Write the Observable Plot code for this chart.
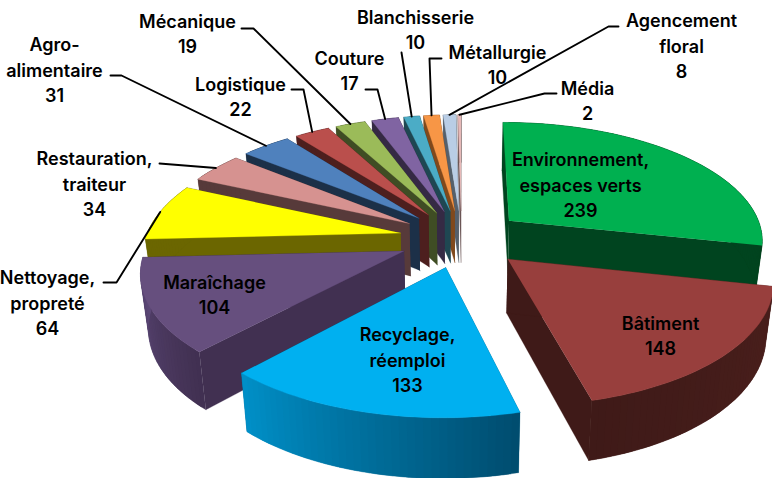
<!DOCTYPE html>
<html>
<head>
<meta charset="utf-8">
<script src="https://cdn.jsdelivr.net/npm/d3@7"></script>
<script src="https://cdn.jsdelivr.net/npm/@observablehq/plot@0.6"></script>
<style>html,body{margin:0;padding:0;background:#fff;overflow:hidden}</style>
</head>
<body>
<div id="chart"></div>
<script>
// Data: categories and values, clockwise from the top
const categories = ["Environnement,\nespaces verts","Bâtiment","Recyclage,\nréemploi","Maraîchage","Nettoyage,\npropreté","Restauration,\ntraiteur","Agro-\nalimentaire","Logistique","Mécanique","Couture","Blanchisserie","Métallurgie","Agencement\nfloral","Média"];
const values = [239,148,133,104,64,34,31,22,19,17,10,10,8,2];

// Styles
const topColors  = ["#00b050","#983f3d","#00b0f0","#664f7e","#ffff00","#d69290","#4f81bd","#ba4f4c","#9bbb59","#8064a2","#4bacc6","#f79646","#b9cde5","#e6b9b8"];
const wallColors = ["#00441f","#3f1a18","#005a7c","#413051","#6b6600","#573a3a","#1c3048","#4d1f1e","#3f4d24","#352a44","#1f4752","#80491c","#55606b","#6b5555"];
const arcStart   = ["#00441f","#4a1f1c","#004c6e","#413051","#6b6600","#573a3a","#1c3048","#4d1f1e","#3f4d24","#352a44","#1f4752","#80491c","#55606b","#6b5555"];
const arcEnd     = ["#00441f","#3f1a18","#0090c8","#5c4878","#6b6600","#573a3a","#1c3048","#4d1f1e","#3f4d24","#352a44","#1f4752","#80491c","#55606b","#6b5555"];

// Label layout (centre of each text block, and the elbow the leader leaves from)
const labelX = [580,660,407,214,47,94,54,240,187,349,415,497,681,587];
const labelY = [185,336,360,295,303,184,70,97,34,71,30,65,46,101];
const leaderFrom = [null,null,null,null,[[103,282],[116,282]],[[159,163]],[[110,75],[121,75]],[[291,89],[303,89]],[[241,28],[253,28]],[[365,89],[377,89]],[[401,52]],[[441,58],[429,58]],[[618,26],[608,26]],[[556,93],[544,93]]];

// Perspective pie model
const cx = 461, cy = 238, Rx = 255, Ry = 118, persp = 0.15, explode = 0.245, depth = 53, shrink = 0.975;
const total = d3.sum(values);
const project = (X, Y, low) => {
  const w = 1 / (1 - persp * Y), s = low ? shrink : 1;
  return [cx + Rx * X * w * s, cy + Ry * Y * w * s + (low ? depth * w : 0)];
};
const rad = d => d * Math.PI / 180;

let acc = 0;
const slices = values.map((v, i) => {
  const a0 = acc / total * 360; acc += v; const a1 = acc / total * 360;
  const mid = (a0 + a1) / 2;
  const ox = explode * Math.sin(rad(mid)), oy = -explode * Math.cos(rad(mid));
  const P = (a, r, low) => project(ox + r * Math.sin(rad(a)), oy - r * Math.cos(rad(a)), low);
  return {i, a0, a1, mid, P};
});

// Painter's order: back slices anti-clockwise from the top, then the two in front on the right
const order = [13,12,11,10,9,8,7,6,5,4,3,2,0,1];
const polys = [];
let pid = 0;
const addPoly = (pts, color) => { pid++; pts.forEach(p => polys.push({id: pid, x: p[0], y: p[1], color})); };
for (const k of order) {
  const s = slices[k];
  const steps = Math.max(2, Math.ceil((s.a1 - s.a0) / 1.5));
  const ang = j => s.a0 + (s.a1 - s.a0) * Math.min(j, steps) / steps;
  // radial walls
  for (const a of [s.a1, s.a0]) {
    addPoly([s.P(0,0,false), s.P(a,1,false), s.P(a,1,true), s.P(0,0,true)], wallColors[k]);
  }
  // outer wall, in overlapping facets shaded from arcStart to arcEnd
  const mix = d3.interpolateRgb(arcStart[k], arcEnd[k]);
  for (let j = 0; j < steps; j++) {
    const pts = [];
    for (const q of [j, j + 1, j + 2]) pts.push(s.P(ang(q),1,false));
    for (const q of [j + 2, j + 1, j]) pts.push(s.P(ang(q),1,true));
    addPoly(pts, mix((j + .5) / steps));
  }
  // top face
  const top = [s.P(0,0,false)];
  for (let j = 0; j <= steps; j++) top.push(s.P(ang(j),1,false));
  addPoly(top, topColors[k]);
}

const labels = categories.map((c, i) => ({text: c + "\n" + values[i], x: labelX[i], y: labelY[i] - 2}));
const leaders = [];
leaderFrom.forEach((pts, i) => {
  if (!pts) return;
  const end = slices[i].P(slices[i].mid, 1, false);
  [...pts, end].forEach(p => leaders.push({id: i, x: p[0], y: p[1]}));
});

const chart = Plot.plot({
  width: 772, height: 478, margin: 0,
  x: {domain: [0, 772], range: [0, 772], axis: null},
  y: {domain: [0, 478], range: [0, 478], axis: null},
  style: {background: "#fff", overflow: "hidden"},
  marks: [
    Plot.line(polys, {x: "x", y: "y", z: "id", fill: "color", curve: "linear", stroke: "color", strokeWidth: 0.3}),
    Plot.line(leaders, {x: "x", y: "y", z: "id", stroke: "#000", strokeWidth: 1.9, curve: "linear"}),
    Plot.text(labels, {x: "x", y: "y", text: "text", fill: "#000", fontSize: 18, fontWeight: 600, fontFamily: "Inter", lineHeight: 1.42, textAnchor: "middle", lineAnchor: "middle"})
  ]
});
document.getElementById("chart").append(chart);
</script>
</body>
</html>
